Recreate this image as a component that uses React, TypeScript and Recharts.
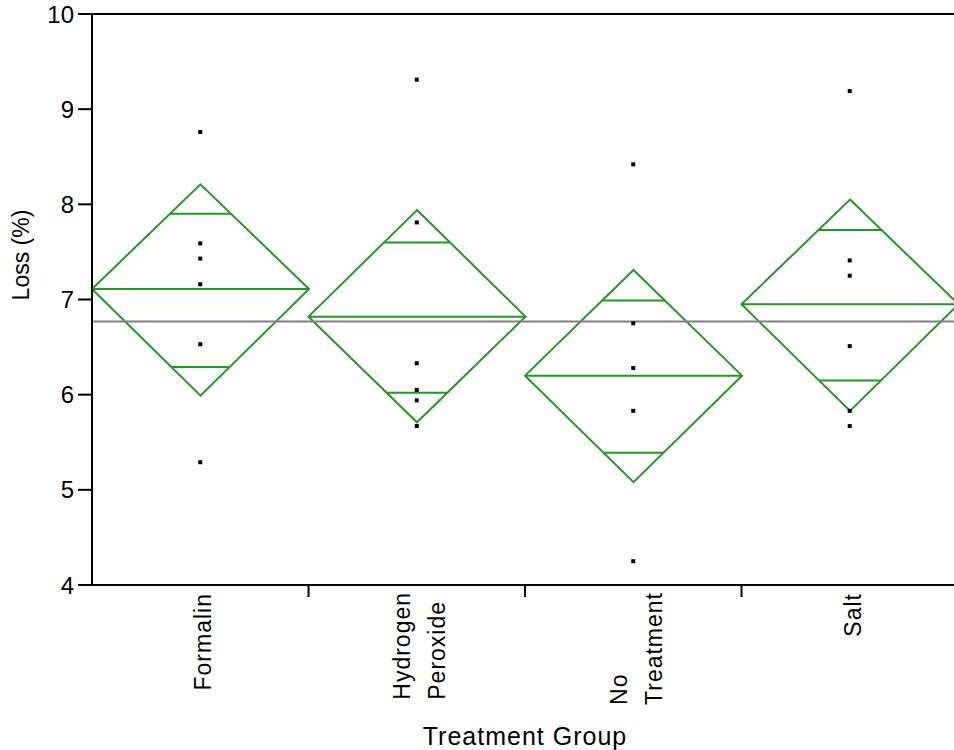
import React from 'react';
import { ComposedChart, Bar, Scatter, XAxis, YAxis, ReferenceLine, Label } from 'recharts';

const groups = ['Formalin', 'Hydrogen Peroxide', 'No Treatment', 'Salt'];
const means = [7.11, 6.82, 6.2, 6.95];
const ciLow = [5.99, 5.71, 5.08, 5.83];
const ciHigh = [8.21, 7.94, 7.31, 8.05];
const overlapLow = [6.29, 6.02, 5.39, 6.15];
const overlapHigh = [7.9, 7.6, 6.99, 7.73];
const grandMean = 6.77;

const formalinLoss = [8.76, 7.59, 7.43, 7.16, 6.53, 5.29];
const peroxideLoss = [9.31, 7.81, 6.33, 6.05, 5.94, 5.67];
const noTreatmentLoss = [8.42, 6.75, 6.28, 5.83, 4.25];
const saltLoss = [9.19, 7.41, 7.25, 6.51, 5.83, 5.67];

const yTicks = [4, 5, 6, 7, 8, 9, 10];

const diamondData = groups.map((group, i) => ({
    group,
    ci: [ciLow[i], ciHigh[i]],
    ciLow: ciLow[i],
    ciHigh: ciHigh[i],
    mean: means[i],
    overlapLow: overlapLow[i],
    overlapHigh: overlapHigh[i],
}));

const pointData = [formalinLoss, peroxideLoss, noTreatmentLoss, saltLoss].flatMap((vals, i) =>
    vals.map((loss) => ({ group: groups[i], loss }))
);

const FONT = '"Liberation Sans", Arial, sans-serif';
const GREEN = '#229A22';
const TICK_FONT_SIZE = 23;
const TICK_SPACING = 1;

let measureCtx: CanvasRenderingContext2D | null = null;
function textWidth(s: string) {
    if (!measureCtx) {
        measureCtx = document.createElement('canvas').getContext('2d');
    }
    if (!measureCtx) return s.length * 12;
    measureCtx.font = `${TICK_FONT_SIZE}px ${FONT}`;
    return measureCtx.measureText(s).width + TICK_SPACING * (s.length - 1);
}

const Diamond = (props: any) => {
    const { x, y, width, height, payload } = props;
    const top = Math.min(y, y + height);
    const bottom = Math.max(y, y + height);
    const toPx = (v: number) => top + ((payload.ciHigh - v) / (payload.ciHigh - payload.ciLow)) * (bottom - top);
    const cx = x + width / 2;
    const half = width / 2;
    const ym = toPx(payload.mean);
    const halfAt = (yy: number) =>
        yy < ym ? (half * (yy - top)) / (ym - top) : (half * (bottom - yy)) / (bottom - ym);
    const yHi = toPx(payload.overlapHigh);
    const yLo = toPx(payload.overlapLow);
    return (
        <g stroke={GREEN} strokeWidth={2} fill="none">
            <polygon points={`${cx},${top} ${x + width},${ym} ${cx},${bottom} ${x},${ym}`} />
            <line x1={x} y1={ym} x2={x + width} y2={ym} />
            <line x1={cx - halfAt(yHi)} y1={yHi} x2={cx + halfAt(yHi)} y2={yHi} />
            <line x1={cx - halfAt(yLo)} y1={yLo} x2={cx + halfAt(yLo)} y2={yLo} />
        </g>
    );
};

const Square = (props: any) => {
    const { cx, cy } = props;
    if (cx == null || cy == null) return null;
    return <rect x={cx - 2} y={cy - 2} width={4} height={4} fill="#000" />;
};

const LossTick = (props: any) => {
    const { x, y, payload } = props;
    return (
        <text x={x} y={y} dy="0.36em" textAnchor="end" fontSize={24} fontFamily={FONT} fill="#000">
            {payload.value}
        </text>
    );
};

const GroupTick = (props: any) => {
    const { x, y, payload, index } = props;
    const lines = String(payload.value).split(' ');
    const offset = payload.offset ?? 0;
    const top = y + 8;
    const multi = lines.length > 1;
    const longest = multi ? Math.max(...lines.map(textWidth)) : 0;
    return (
        <g>
            {index > 0 && (
                <line x1={x - offset} y1={y} x2={x - offset} y2={y + 12} stroke="#000" strokeWidth={2} />
            )}
            {lines.map((line, i) => {
                const lx = x + 3 + (i - (lines.length - 1) / 2) * 35;
                const ly = multi ? top + longest : top;
                return (
                    <text
                        key={i}
                        x={lx}
                        y={ly}
                        dy="0.35em"
                        transform={`rotate(-90, ${lx}, ${ly})`}
                        textAnchor={multi ? 'start' : 'end'}
                        fontSize={TICK_FONT_SIZE}
                        fontFamily={FONT}
                        letterSpacing={TICK_SPACING}
                        fill="#000"
                    >
                        {line}
                    </text>
                );
            })}
        </g>
    );
};

export default function App() {
    return (
        <div style={{ position: 'absolute', left: 0, top: 0, width: 954, height: 750, overflow: 'hidden', background: '#fff' }}>
            <ComposedChart
                width={958}
                height={750}
                data={diamondData}
                margin={{ top: 14, right: 0, bottom: 0, left: 0 }}
                barCategoryGap={0}
                barGap={0}
            >
                <XAxis
                    dataKey="group"
                    type="category"
                    allowDuplicatedCategory={false}
                    height={165}
                    axisLine={{ stroke: '#000', strokeWidth: 2 }}
                    tickLine={false}
                    tickSize={0}
                    tickMargin={0}
                    interval={0}
                    tick={<GroupTick />}
                >
                    <Label
                        content={({ viewBox }: any) => (
                            <text
                                x={viewBox.x + viewBox.width / 2}
                                y={viewBox.y + 160}
                                textAnchor="middle"
                                fontSize={25}
                                letterSpacing={1}
                                fontFamily={FONT}
                                fill="#000"
                            >
                                Treatment Group
                            </text>
                        )}
                    />
                </XAxis>
                <YAxis
                    type="number"
                    domain={[4, 10]}
                    ticks={yTicks}
                    width={92}
                    interval={0}
                    axisLine={{ stroke: '#000', strokeWidth: 2 }}
                    tickLine={{ stroke: '#000', strokeWidth: 2 }}
                    tickSize={14}
                    tickMargin={4}
                    tick={<LossTick />}
                >
                    <Label
                        content={() => (
                            <text
                                x={21}
                                y={255}
                                dy="0.35em"
                                transform="rotate(-90, 21, 255)"
                                textAnchor="middle"
                                fontSize={23}
                                fontFamily={FONT}
                                fill="#000"
                            >
                                Loss (%)
                            </text>
                        )}
                    />
                </YAxis>
                <ReferenceLine y={10} stroke="#000" strokeWidth={2} />
                <ReferenceLine y={grandMean} stroke="#808080" strokeWidth={2} />
                <Bar dataKey="ci" shape={<Diamond />} isAnimationActive={false} />
                <Scatter data={pointData} dataKey="loss" shape={<Square />} isAnimationActive={false} />
            </ComposedChart>
        </div>
    );
}
